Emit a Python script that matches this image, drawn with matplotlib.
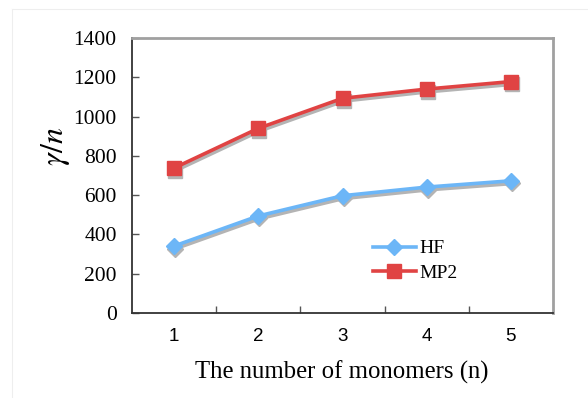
import matplotlib
matplotlib.use("Agg")
import matplotlib.pyplot as plt
import matplotlib.transforms as mtransforms
from matplotlib.lines import Line2D

categories = [1, 2, 3, 4, 5]
hf = [341, 494, 597, 641, 673]
mp2 = [738, 940, 1093, 1140, 1178]
yticks = [0, 200, 400, 600, 800, 1000, 1200, 1400]

fig = plt.figure(figsize=(5.88, 3.98), dpi=100)
ax = fig.add_axes([132/588, 1-313/398, (553-132)/588, (313-38)/398])

x = list(range(1, len(categories) + 1))
shadow = mtransforms.offset_copy(ax.transData, fig=fig, x=1, y=-2.5, units='dots')
blue = '#6cb6f7'
red = '#e04343'
sh = '#b4b4b4'
ax.plot(x, hf, color=sh, lw=3, marker='D', ms=8.5, mec=sh, mfc=sh, transform=shadow, zorder=2)
ax.plot(x, mp2, color=sh, lw=3, marker='s', ms=9.5, mec=sh, mfc=sh, transform=shadow, zorder=2)
ax.plot(x, hf, color=blue, lw=2.6, marker='D', ms=8.5, mec=blue, mfc=blue, zorder=3, label='HF')
ax.plot(x, mp2, color=red, lw=2.6, marker='s', ms=9.5, mec=red, mfc=red, zorder=3, label='MP2')

ax.set_xlim(0.5, 5.5)
ax.set_ylim(0, 1400)
ax.set_yticks(yticks)
ax.set_yticklabels([str(v) for v in yticks], family='Liberation Serif', fontsize=15.5)
ax.set_xticks([1.5, 2.5, 3.5, 4.5])
ax.set_xticklabels([])
for xi, c in zip(x, categories):
    ax.text(xi, -0.087, str(c), transform=ax.get_xaxis_transform(), ha='center', va='center',
            family='Liberation Sans', fontsize=13.5, weight='medium')
ax.tick_params(axis='both', direction='in', length=5, width=1, color='#555555')
ax.tick_params(axis='y', pad=11)

for s in ['left', 'bottom']:
    ax.spines[s].set_color('#333333')
    ax.spines[s].set_linewidth(1.3)
for s in ['top', 'right']:
    ax.spines[s].set_color('#a0a0a0')
    ax.spines[s].set_linewidth(2)

fig.text(342/588, 1-372/398, 'The number of monomers (n)', ha='center', va='center',
         family='Liberation Serif', fontsize=17.8)
fig.text(56/588, 1-146/398, r'$\gamma/n$', ha='center', va='center', rotation=90,
         fontsize=23, math_fontfamily='stix')

leg = ax.legend(loc='upper left', bbox_to_anchor=((365-132)/421, (313-232)/275), frameon=False,
                prop={'family': 'Liberation Serif', 'size': 14}, handlelength=2.2,
                handletextpad=0.2, labelspacing=0.35, borderaxespad=0)

# faint figure frame
fig.add_artist(Line2D([12/588, 1], [1-9/398, 1-9/398], color='#eeeeee', lw=0.8, transform=fig.transFigure))
fig.add_artist(Line2D([12/588, 12/588], [0, 1-9/398], color='#eeeeee', lw=0.8, transform=fig.transFigure))

fig.savefig('out.png', dpi=100)
